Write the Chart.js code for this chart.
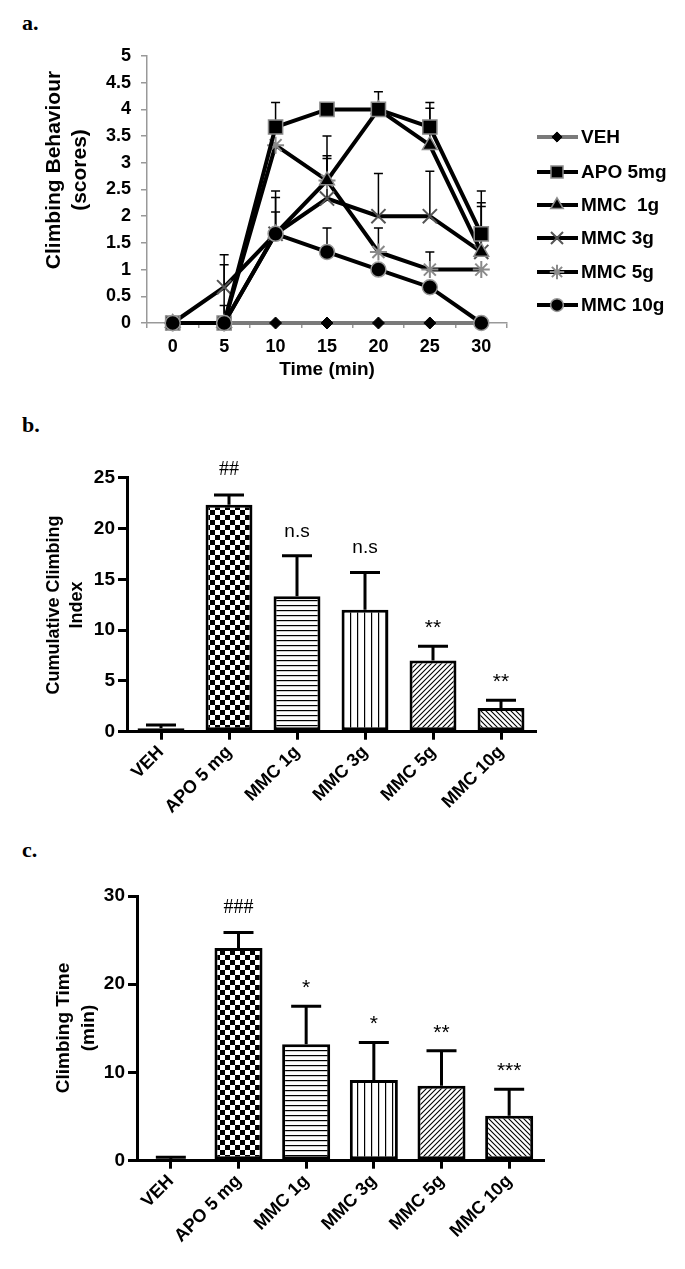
<!DOCTYPE html>
<html>
<head>
<meta charset="utf-8">
<script src="https://cdn.jsdelivr.net/npm/chart.js"></script>
<style>
body { margin: 0; background: #fff; width: 685px; height: 1269px; position: relative; overflow: hidden; }
canvas { position: absolute; left: 0; }
.tag { position: absolute; left: 22px; font: bold 22px "Liberation Serif", "Times New Roman", serif; line-height: 22px; color: #000; }
</style>
</head>
<body>
<div class="tag" style="top:12px">a.</div>
<div class="tag" style="top:414px">b.</div>
<div class="tag" style="top:839px">c.</div>
<canvas id="chart-a" style="top:0" width="685" height="400"></canvas>
<canvas id="chart-b" style="top:400px" width="685" height="420"></canvas>
<canvas id="chart-c" style="top:820px" width="685" height="449"></canvas>
<script>
// panel a - climbing scores over time
const timeLabels = ['0', '5', '10', '15', '20', '25', '30'];
const seriesNames = ['VEH', 'APO 5mg', 'MMC  1g', 'MMC 3g', 'MMC 5g', 'MMC 10g'];
const vehScores = [0, 0, 0, 0, 0, 0, 0];
const apoScores = [0, 0, 3.67, 4, 4, 3.67, 1.67];
const mmc1Scores = [0, 0, 1.67, 2.67, 4, 3.33, 1.33];
const mmc3Scores = [0, 0.67, 1.67, 2.33, 2, 2, 1.33];
const mmc5Scores = [0, 0, 3.33, 2.67, 1.33, 1, 1];
const mmc10Scores = [0, 0, 1.67, 1.33, 1, 0.67, 0];
// top of the (upper) error bars, null = none drawn
const apoErrTop = [null, null, 4.13, null, null, 4.13, 2.25];
const mmc1ErrTop = [null, 1.09, 2.08, 3.08, 4.33, 4.02, 2.47];
const mmc3ErrTop = [null, 1.28, 2.35, 3.13, 2.8, 2.84, 2.18];
const mmc5ErrTop = [null, 0.33, null, 3.5, 1.78, 1.33, null];
const mmc10ErrTop = [null, null, 2.47, 1.78, null, null, null];

// panels b and c - group bars
const groupLabels = ['VEH', 'APO 5 mg', 'MMC 1g', 'MMC 3g', 'MMC 5g', 'MMC 10g'];
const indexMeans = [0.33, 22.33, 13.33, 12, 7, 2.33];
const indexErrTop = [0.67, 23.3, 17.33, 15.67, 8.4, 3.1];
const indexMarks = ['', '##', 'n.s', 'n.s', '**', '**'];
const timeMeans = [0.2, 24.1, 13.2, 9.15, 8.5, 5.1];
const timeErrTop = [0.4, 25.85, 17.5, 13.4, 12.47, 8.1];
const timeMarks = ['', '###', '*', '*', '**', '***'];

const SANS = '"Liberation Sans", Arial, sans-serif';
const SERIF = '"Liberation Serif", "Times New Roman", serif';

function makePattern(kind) {
    const c = document.createElement('canvas');
    const g = c.getContext('2d');
    const s = { checker: 10, hlines: 5, vlines: 7, fwd: 5, back: 5, plain: 4 }[kind];
    c.width = s; c.height = s;
    g.fillStyle = '#fff';
    g.fillRect(0, 0, s, s);
    g.fillStyle = '#000';
    g.strokeStyle = '#000';
    g.lineWidth = 1.1;
    if (kind === 'checker') {
        g.fillRect(0, 0, 5, 5);
        g.fillRect(5, 5, 5, 5);
    } else if (kind === 'hlines') {
        g.fillRect(0, 0, s, 1.2);
    } else if (kind === 'vlines') {
        g.fillRect(0, 0, 1.2, s);
    } else if (kind === 'fwd') {
        g.beginPath();
        g.moveTo(0, s); g.lineTo(s, 0);
        g.moveTo(-1, 1); g.lineTo(1, -1);
        g.moveTo(s - 1, s + 1); g.lineTo(s + 1, s - 1);
        g.stroke();
    } else if (kind === 'back') {
        g.beginPath();
        g.moveTo(0, 0); g.lineTo(s, s);
        g.moveTo(-1, s - 1); g.lineTo(1, s + 1);
        g.moveTo(s - 1, -1); g.lineTo(s + 1, 1);
        g.stroke();
    }
    return g.createPattern(c, 'repeat');
}

const barFills = ['plain', 'checker', 'hlines', 'vlines', 'fwd', 'back'].map(makePattern);

// free text (rotated axis titles, x title)
const panelText = {
    id: 'panelText',
    afterDraw(chart, args, opts) {
        const ctx = chart.ctx;
        (opts.items || []).forEach(t => {
            ctx.save();
            ctx.fillStyle = '#000';
            ctx.font = t.font;
            ctx.textAlign = 'center';
            ctx.textBaseline = 'middle';
            ctx.translate(t.x, t.y);
            if (t.rotate) ctx.rotate(-Math.PI / 2);
            ctx.fillText(t.text, 0, 0);
            ctx.restore();
        });
    }
};

// upper error bars for the line chart
const lineErrorBars = {
    id: 'lineErrorBars',
    beforeDatasetsDraw(chart) {
        const { ctx, scales: { x, y } } = chart;
        ctx.save();
        ctx.strokeStyle = '#000';
        ctx.lineWidth = 1.5;
        chart.data.datasets.forEach(ds => {
            if (!ds.errTop) return;
            ds.errTop.forEach((top, i) => {
                if (top === null) return;
                const px = x.getPixelForValue(i);
                const y0 = y.getPixelForValue(ds.data[i]);
                const y1 = y.getPixelForValue(top);
                ctx.beginPath();
                ctx.moveTo(px, y0); ctx.lineTo(px, y1);
                ctx.moveTo(px - 4.5, y1); ctx.lineTo(px + 4.5, y1);
                ctx.stroke();
            });
        });
        ctx.restore();
    }
};

// legend with line + marker, panel a
const lineLegend = {
    id: 'lineLegend',
    afterDraw(chart) {
        const ctx = chart.ctx;
        const rows = [137, 172, 205, 238, 272, 305];
        chart.data.datasets.forEach((ds, i) => {
            const yy = rows[i];
            ctx.save();
            ctx.strokeStyle = ds.borderColor;
            ctx.lineWidth = 4;
            ctx.beginPath();
            ctx.moveTo(537, yy); ctx.lineTo(578, yy);
            ctx.stroke();
            ctx.fillStyle = ds.pointBackgroundColor;
            ctx.strokeStyle = ds.pointBorderColor;
            ctx.lineWidth = ds.pointBorderWidth;
            Chart.helpers.drawPoint(ctx, {
                pointStyle: ds.pointStyle, radius: ds.pointRadius * 0.85,
                rotation: 0, borderWidth: ds.pointBorderWidth
            }, 557, yy);
            ctx.fillStyle = '#000';
            ctx.font = 'bold 19px ' + SANS;
            ctx.textAlign = 'left';
            ctx.textBaseline = 'middle';
            ctx.fillText(seriesNames[i], 581, yy + 1);
            ctx.restore();
        });
    }
};

function lineSet(i, data, errTop, color, style, radius, bg, border, bw, order) {
    return {
        label: seriesNames[i], data: data, errTop: errTop,
        borderColor: color, borderWidth: 4, tension: 0, fill: false,
        pointStyle: style, pointRadius: radius, pointHoverRadius: radius,
        pointBackgroundColor: bg, pointBorderColor: border, pointBorderWidth: bw,
        order: order, clip: false
    };
}

new Chart(document.getElementById('chart-a'), {
    type: 'line',
    data: {
        labels: timeLabels,
        datasets: [
            lineSet(0, vehScores, null, '#7a7a7a', 'rectRot', 6, '#000', '#000', 1, 6),
            lineSet(1, apoScores, apoErrTop, '#000', 'rect', 10, '#000', '#8a8a8a', 1.5, 1),
            lineSet(2, mmc1Scores, mmc1ErrTop, '#000', 'triangle', 8.5, '#000', '#8a8a8a', 1.5, 2),
            lineSet(3, mmc3Scores, mmc3ErrTop, '#000', 'crossRot', 10, '#555', '#555', 2, 3),
            lineSet(4, mmc5Scores, mmc5ErrTop, '#000', 'star', 8.5, '#8a8a8a', '#8a8a8a', 2, 4),
            lineSet(5, mmc10Scores, mmc10ErrTop, '#000', 'circle', 7.5, '#000', '#999', 1.5, 0)
        ]
    },
    options: {
        responsive: false,
        devicePixelRatio: 1,
        animation: false,
        layout: { padding: { left: 0, top: 56, right: 178, bottom: 0 } },
        plugins: {
            legend: { display: false },
            tooltip: { enabled: false },
            panelText: {
                items: [
                    { text: 'Climbing Behaviour', x: 54, y: 170, rotate: true, font: 'bold 21px ' + SANS },
                    { text: '(scores)', x: 80, y: 170, rotate: true, font: 'bold 21px ' + SANS },
                    { text: 'Time (min)', x: 327, y: 370, font: 'bold 19px ' + SANS }
                ]
            }
        },
        scales: {
            x: {
                offset: true,
                afterFit: s => { s.height = 77; },
                grid: { offset: true, drawOnChartArea: false, drawTicks: true, tickLength: 5, color: '#999', lineWidth: 1.5 },
                border: { color: '#999', width: 1.5 },
                ticks: { color: '#000', font: { family: SANS, size: 18, weight: 'bold' }, padding: 8, maxRotation: 0 }
            },
            y: {
                min: 0, max: 5,
                afterFit: s => { s.width = 147; },
                grid: { drawOnChartArea: false, drawTicks: true, tickLength: 6, color: '#999', lineWidth: 1.5 },
                border: { color: '#999', width: 1.5 },
                ticks: {
                    stepSize: 0.5, color: '#000', padding: 10,
                    font: { family: SANS, size: 18, weight: 'bold' },
                    callback: v => String(Math.round(v * 10) / 10)
                }
            }
        }
    },
    plugins: [lineErrorBars, lineLegend, panelText]
});

// upper error bars + significance marks on bar charts
const barExtras = {
    id: 'barExtras',
    afterDatasetsDraw(chart, args, opts) {
        const { ctx, scales: { y } } = chart;
        const meta = chart.getDatasetMeta(0);
        ctx.save();
        ctx.strokeStyle = '#000';
        ctx.fillStyle = '#000';
        ctx.lineWidth = 3;
        opts.errTop.forEach((top, i) => {
            const bar = meta.data[i];
            const y1 = y.getPixelForValue(top);
            ctx.beginPath();
            ctx.moveTo(bar.x, bar.y); ctx.lineTo(bar.x, y1);
            ctx.moveTo(bar.x - 15, y1); ctx.lineTo(bar.x + 15, y1);
            ctx.stroke();
            const mark = opts.marks[i];
            if (!mark) return;
            ctx.textAlign = 'center';
            ctx.textBaseline = 'alphabetic';
            if (mark.startsWith('#')) {
                ctx.font = '20px ' + SERIF;
                ctx.fillText(mark, bar.x, y1 - 20);
            } else if (mark.startsWith('*')) {
                ctx.font = '21px ' + SANS;
                ctx.fillText(mark, bar.x, y1 - 12);
            } else {
                ctx.font = '19px ' + SANS;
                ctx.fillText(mark, bar.x, y1 - 19);
            }
        });
        ctx.restore();
    }
};

function barChart(id, means, errTop, marks, yMax, step, geo, titles) {
    return new Chart(document.getElementById(id), {
        type: 'bar',
        data: {
            labels: groupLabels,
            datasets: [{
                data: means,
                backgroundColor: barFills,
                borderColor: '#000',
                borderWidth: 3,
                borderSkipped: false,
                barPercentage: geo.bar,
                categoryPercentage: 1
            }]
        },
        options: {
            responsive: false,
            devicePixelRatio: 1,
            animation: false,
            layout: { padding: { left: 0, top: geo.top, right: geo.right, bottom: 0 } },
            plugins: {
                legend: { display: false },
                tooltip: { enabled: false },
                barExtras: { errTop: errTop, marks: marks },
                panelText: { items: titles }
            },
            scales: {
                x: {
                    offset: true,
                    afterFit: s => { s.height = geo.xh; },
                    grid: { offset: false, drawOnChartArea: false, drawTicks: true, tickLength: 8, color: '#000', lineWidth: 3 },
                    border: { color: '#000', width: 3 },
                    ticks: { color: '#000', font: { family: SANS, size: 18, weight: 'bold' }, minRotation: 45, maxRotation: 45, padding: 2 }
                },
                y: {
                    min: 0, max: yMax,
                    afterFit: s => { s.width = geo.left; },
                    grid: { drawOnChartArea: false, drawTicks: true, tickLength: 9, color: '#000', lineWidth: 3 },
                    border: { color: '#000', width: 3 },
                    ticks: { stepSize: step, color: '#000', font: { family: SANS, size: 19, weight: 'bold' }, padding: 3 }
                }
            }
        },
        plugins: [barExtras, panelText]
    });
}

barChart('chart-b', indexMeans, indexErrTop, indexMarks, 25, 5,
    { top: 77.7, right: 150, left: 127, xh: 88.3, bar: 0.69 },
    [
        { text: 'Cumulative Climbing', x: 54, y: 205, rotate: true, font: 'bold 18px ' + SANS },
        { text: 'Index', x: 77, y: 205, rotate: true, font: 'bold 18px ' + SANS }
    ]);

barChart('chart-c', timeMeans, timeErrTop, timeMarks, 30, 10,
    { top: 76, right: 142, left: 137, xh: 108.3, bar: 0.71 },
    [
        { text: 'Climbing Time', x: 64, y: 208, rotate: true, font: 'bold 19px ' + SANS },
        { text: '(min)', x: 89, y: 208, rotate: true, font: 'bold 19px ' + SANS }
    ]);
</script>
</body>
</html>
